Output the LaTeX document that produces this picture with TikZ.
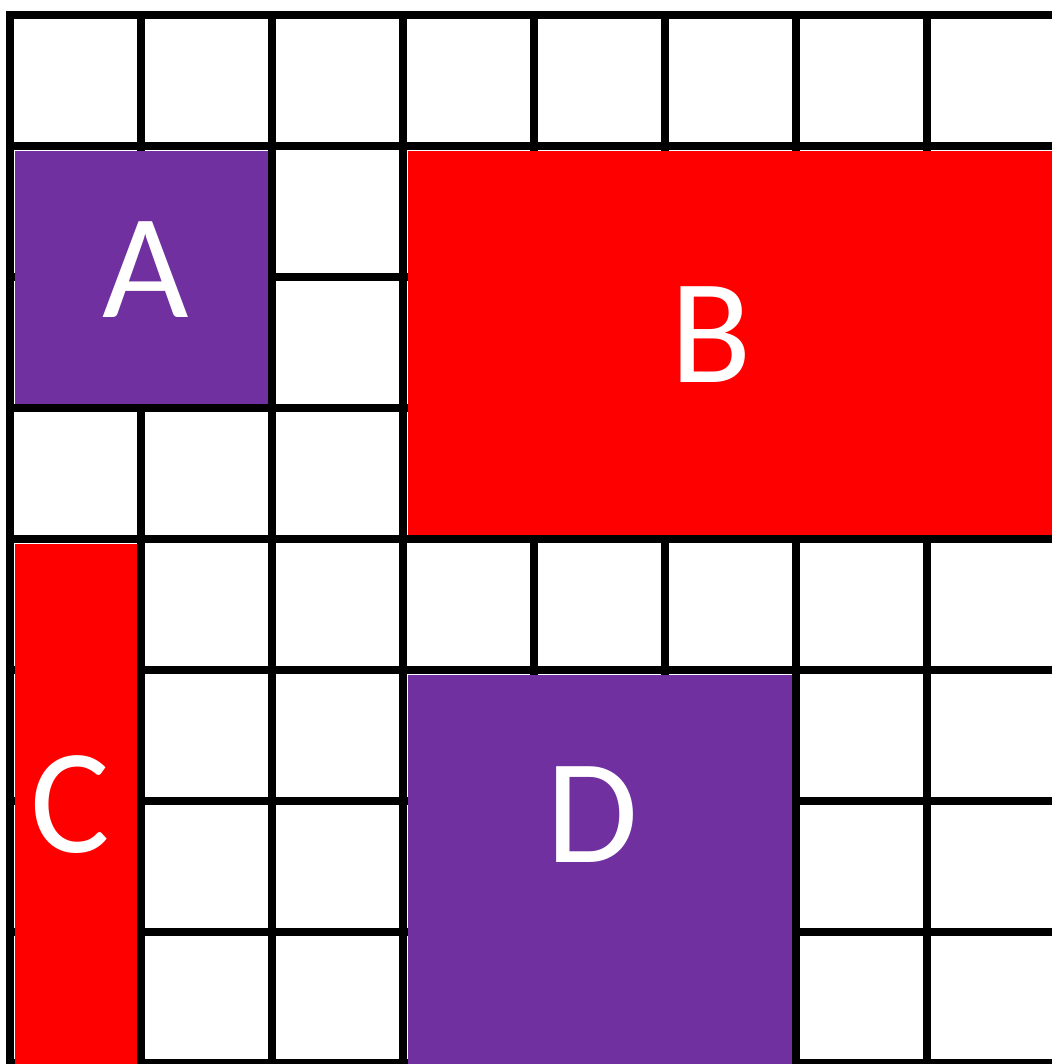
\documentclass[tikz,border=0pt]{standalone}
\usepackage{fontspec}
\setmainfont{Carlito}
\definecolor{blockpurple}{HTML}{7030A0}
\definecolor{blockred}{HTML}{FF0000}
\tikzstyle{gridline} = [
    line width=6pt,
    line cap=rect,
    draw=black
]
\tikzstyle{letter} = [
    text=white,
    inner sep=0pt,
    font=\fontsize{112}{112}\selectfont
]
\begin{document}
\begin{tikzpicture}[x=0.75pt, y=-0.75pt]

\useasboundingbox (0,0) rectangle (1052,1064);
\clip (0,0) rectangle (1052,1064);

% grid
\foreach \i in {0,...,8} {
    \draw [gridline] ({10+131*\i},15) -- ({10+131*\i},1063);
    \draw [gridline] (10,{15+131*\i}) -- (1058,{15+131*\i});
}

% blocks
\fill [blockpurple] (14.5,150.5) rectangle (267.5,403.5);
\fill [blockred] (407.5,150.5) rectangle (1060,534.5);
\fill [blockred] (14.5,543.5) rectangle (136.5,1070);
\fill [blockpurple] (407.5,674.5) rectangle (791.5,1070);

\node (a) [letter] at (146,270) {A};
\node (b) [letter] at (711,335) {B};
\node (c) [letter] at (70,805) {C};
\node (d) [letter] at (592,815) {D};

\end{tikzpicture}
\end{document}
